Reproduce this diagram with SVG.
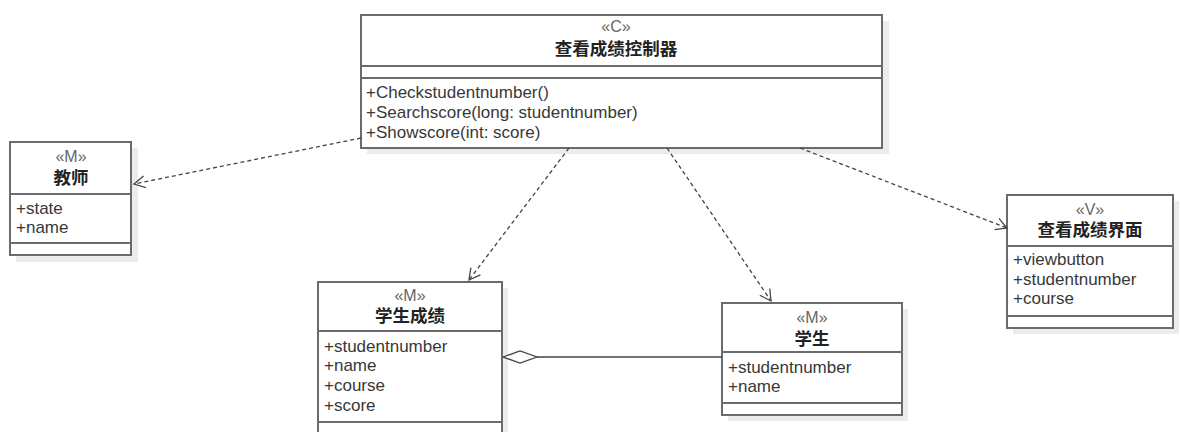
<svg xmlns="http://www.w3.org/2000/svg" width="1181" height="432" viewBox="0 0 1181 432">
<style>
.box{fill:#fff;stroke:#6b6b6b;stroke-width:2}
.sh{fill:#ececec}
.sep{stroke:#6b6b6b;stroke-width:2}
.st{font-family:"Liberation Sans",Arial,sans-serif;font-size:16px;fill:#666;text-anchor:middle}
.ti{font-family:"Liberation Sans","Noto Sans CJK SC",sans-serif;font-size:17.5px;font-weight:bold;fill:#222;text-anchor:middle}
.at{font-family:"Liberation Sans",Arial,sans-serif;font-size:17px;fill:#383838}
.dep{fill:none;stroke:#444;stroke-width:1.3;stroke-dasharray:4,3}
.ah{fill:none;stroke:#444;stroke-width:1.3}
</style>
<defs>
<marker id="open" markerWidth="14" markerHeight="14" refX="12" refY="7" orient="auto" markerUnits="userSpaceOnUse">
<path d="M1,1 L12,7 L1,13" class="ah"/>
</marker>
</defs>
<rect width="1181" height="432" fill="#fff"/>

<g id="controller">
<rect class="sh" x="367" y="21" width="522" height="133"/>
<rect class="box" x="361" y="15" width="521" height="133"/>
<line class="sep" x1="361" y1="66" x2="882" y2="66"/>
<line class="sep" x1="361" y1="78" x2="882" y2="78"/>
<text class="st" x="616" y="32">«C»</text>
<text class="ti" x="616" y="55">查看成绩控制器</text>
<text class="at" x="366" y="98">+Checkstudentnumber()</text>
<text class="at" x="366" y="118">+Searchscore(long: studentnumber)</text>
<text class="at" x="366" y="138">+Showscore(int: score)</text>
</g>

<g id="teacher">
<rect class="sh" x="16" y="148" width="122" height="114"/>
<rect class="box" x="10" y="142" width="121" height="113"/>
<line class="sep" x1="10" y1="194" x2="131" y2="194"/>
<line class="sep" x1="10" y1="243" x2="131" y2="243"/>
<text class="st" x="71" y="162">«M»</text>
<text class="ti" x="71" y="184">教师</text>
<text class="at" x="16" y="214">+state</text>
<text class="at" x="16" y="233">+name</text>
</g>

<g id="score">
<rect class="sh" x="324" y="288" width="184" height="160"/>
<rect class="box" x="318" y="282" width="184" height="160"/>
<line class="sep" x1="318" y1="331" x2="502" y2="331"/>
<line class="sep" x1="318" y1="422" x2="502" y2="422"/>
<text class="st" x="410" y="301">«M»</text>
<text class="ti" x="410" y="322">学生成绩</text>
<text class="at" x="324" y="352">+studentnumber</text>
<text class="at" x="324" y="371">+name</text>
<text class="at" x="324" y="391">+course</text>
<text class="at" x="324" y="411">+score</text>
</g>

<g id="student">
<rect class="sh" x="728" y="309" width="180" height="112"/>
<rect class="box" x="722" y="303" width="180" height="112"/>
<line class="sep" x1="722" y1="352" x2="902" y2="352"/>
<line class="sep" x1="722" y1="403" x2="902" y2="403"/>
<text class="st" x="812" y="323">«M»</text>
<text class="ti" x="812" y="345">学生</text>
<text class="at" x="728" y="373">+studentnumber</text>
<text class="at" x="728" y="392">+name</text>
</g>

<g id="view">
<rect class="sh" x="1013" y="201" width="166" height="133"/>
<rect class="box" x="1007" y="195" width="166" height="133"/>
<line class="sep" x1="1007" y1="246" x2="1173" y2="246"/>
<line class="sep" x1="1007" y1="316" x2="1173" y2="316"/>
<text class="st" x="1090" y="215">«V»</text>
<text class="ti" x="1090" y="236">查看成绩界面</text>
<text class="at" x="1013" y="265">+viewbutton</text>
<text class="at" x="1013" y="285">+studentnumber</text>
<text class="at" x="1013" y="304">+course</text>
</g>

<g id="connectors">
<path class="dep" d="M361,138 L134,184" marker-end="url(#open)"/>
<path class="dep" d="M569,148 L469,280" marker-end="url(#open)"/>
<path class="dep" d="M667,148 L771,301" marker-end="url(#open)"/>
<path class="dep" d="M800,148 L1007,228" marker-end="url(#open)"/>
<line x1="537" y1="357" x2="722" y2="357" stroke="#444" stroke-width="1.3"/>
<path d="M503,357 L520,351 L537,357 L520,363 Z" fill="#fff" stroke="#444" stroke-width="1.3"/>
</g>
</svg>
